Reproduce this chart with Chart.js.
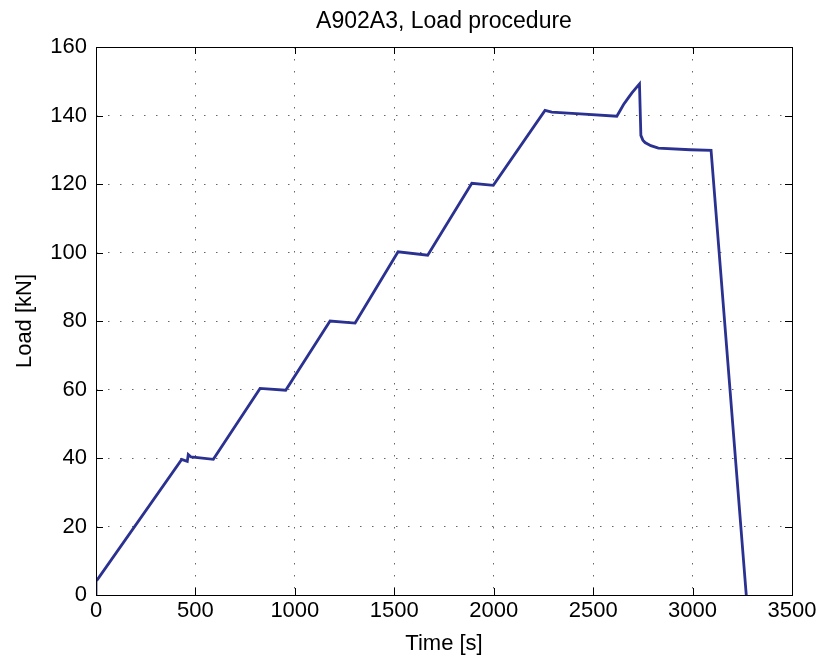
<!DOCTYPE html>
<html>
<head>
<meta charset="utf-8">
<script src="https://cdn.jsdelivr.net/npm/chart.js@4/dist/chart.umd.min.js"></script>
<style>
    html, body { margin: 0; padding: 0; background: #fff; }
    #loadChart { display: block; }
</style>
</head>
<body>
<canvas id="loadChart" width="820" height="662"></canvas>
<script>
// Load procedure, specimen A902A3
const timeS = [0, 0, 8, 431, 459, 464, 478, 590, 825, 954, 1177, 1303, 1519, 1668, 1890, 1998,
    2258, 2292, 2435, 2619, 2635, 2653, 2675, 2695, 2715, 2733, 2740, 2750, 2761, 2790, 2828, 2988, 3093, 3270];
const loadKN = [0, 4.1, 4.6, 39.6, 39.0, 41.0, 40.3, 39.6, 60.3, 59.8, 80.0, 79.4, 100.2, 99.2, 120.2, 119.6,
    141.5, 141.0, 140.5, 139.8, 141.4, 143.2, 145.0, 146.6, 148.0, 149.2, 134.2, 132.8, 132.1, 131.2, 130.5, 130.0, 129.8, 0];

const xTicks = [0, 500, 1000, 1500, 2000, 2500, 3000, 3500];
const yTicks = [0, 20, 40, 60, 80, 100, 120, 140, 160];

const chartTitle = 'A902A3, Load procedure';
const xLabel = 'Time [s]';
const yLabel = 'Load [kN]';

const fontFamily = "'Liberation Sans', Arial, Helvetica, sans-serif";

// matlab style box, inward ticks and title
const matlabFrame = {
    id: 'matlabFrame',
    afterDraw(chart) {
        const { ctx, chartArea: a, scales: { x, y } } = chart;
        const tl = 7;
        ctx.save();
        ctx.strokeStyle = '#000';
        ctx.lineWidth = 1;
        ctx.beginPath();
        xTicks.forEach(v => {
            const px = Math.round(x.getPixelForValue(v)) + 0.5;
            ctx.moveTo(px, a.bottom); ctx.lineTo(px, a.bottom - tl);
            ctx.moveTo(px, a.top); ctx.lineTo(px, a.top + tl);
        });
        yTicks.forEach(v => {
            const py = Math.round(y.getPixelForValue(v)) + 0.5;
            ctx.moveTo(a.left, py); ctx.lineTo(a.left + tl, py);
            ctx.moveTo(a.right, py); ctx.lineTo(a.right - tl, py);
        });
        ctx.stroke();
        ctx.strokeRect(Math.round(a.left) + 0.5, Math.round(a.top) + 0.5,
            Math.round(a.width), Math.round(a.height));

        ctx.fillStyle = '#000';
        ctx.font = '23px ' + fontFamily;
        ctx.textAlign = 'center';
        ctx.textBaseline = 'middle';
        ctx.fillText(chartTitle, (a.left + a.right) / 2, 22);
        ctx.restore();
    }
};

new Chart(document.getElementById('loadChart'), {
    type: 'line',
    data: {
        datasets: [{
            data: timeS.map((t, i) => ({ x: t, y: loadKN[i] })),
            borderColor: '#2b3190',
            borderWidth: 2.8,
            pointRadius: 0,
            fill: false,
            tension: 0
        }]
    },
    options: {
        responsive: false,
        animation: false,
        layout: { padding: { top: 47, right: 28, bottom: 0, left: 0 } },
        plugins: {
            legend: { display: false },
            tooltip: { enabled: false }
        },
        scales: {
            x: {
                type: 'linear',
                min: 0,
                max: 3500,
                afterBuildTicks: s => { s.ticks = xTicks.map(v => ({ value: v })); },
                afterFit: s => { s.height = 67; },
                ticks: {
                    color: '#000',
                    padding: 3,
                    maxRotation: 0,
                    font: { size: 22, family: fontFamily },
                    callback: v => String(v)
                },
                grid: { color: '#666', lineWidth: 1, drawTicks: false },
                border: { display: false, dash: [1.5, 10.5] },
                title: {
                    display: true,
                    text: xLabel,
                    color: '#000',
                    padding: { top: 0, bottom: 5 },
                    font: { size: 22, family: fontFamily }
                }
            },
            y: {
                min: 0,
                max: 160,
                afterBuildTicks: s => { s.ticks = yTicks.map(v => ({ value: v })); },
                afterFit: s => { s.width = 96; },
                ticks: {
                    color: '#000',
                    padding: 9,
                    font: { size: 22, family: fontFamily },
                    callback: v => String(v)
                },
                grid: { color: '#666', lineWidth: 1, drawTicks: false },
                border: { display: false, dash: [1.5, 10.5] },
                title: {
                    display: true,
                    text: yLabel,
                    color: '#000',
                    padding: { top: 12, bottom: 0 },
                    font: { size: 22, family: fontFamily }
                }
            }
        }
    },
    plugins: [matlabFrame]
});
</script>
</body>
</html>
